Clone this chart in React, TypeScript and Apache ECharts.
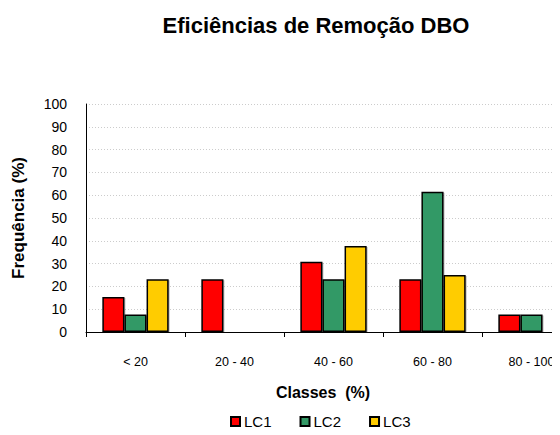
import React, { useEffect, useRef } from "react";
import * as echarts from "echarts";

const categories = ["< 20", "20 - 40", "40 - 60", "60 - 80", "80 - 100"];
const lc1 = [15.4, 23.1, 30.8, 23.1, 7.7];
const lc2 = [7.7, 0, 23.1, 61.5, 7.7];
const lc3 = [23.1, 0, 37.7, 25, 0];
const seriesNames = ["LC1", "LC2", "LC3"];
const colors = ["#FF0000", "#339966", "#FFCC00"];

export default function App() {
  const ref = useRef<HTMLDivElement>(null);
  useEffect(() => {
    if (!ref.current) return;
    const chart = echarts.init(ref.current, undefined, { renderer: "svg" });
    const font = "'Liberation Sans', Arial, sans-serif";
    const dataSets = [lc1, lc2, lc3];
    chart.setOption({
      animation: false,
      backgroundColor: "#ffffff",
      title: {
        text: "Eficiências de Remoção DBO",
        left: 311,
        textAlign: "center",
        top: 9,
        textStyle: {
          fontFamily: font,
          fontWeight: "bold",
          fontSize: 22,
          color: "#000",
        },
      },
      graphic: [
        {
          type: "text",
          x: 323,
          y: 392,
          style: {
            text: "Classes  (%)",
            font: "bold 16px 'Liberation Sans', Arial, sans-serif",
            fill: "#000",
            align: "center",
            verticalAlign: "middle",
          },
        },
      ],
      legend: {
        data: seriesNames,
        left: 230,
        top: 414,
        padding: 0,
        icon: "rect",
        itemWidth: 9,
        itemHeight: 9,
        itemGap: 28,
        textStyle: { fontFamily: font, fontSize: 15, color: "#000", padding: [0, 0, 0, -1] },
      },
      grid: { left: 86, top: 104, width: 495, height: 228, outerBoundsMode: "none", containLabel: false },
      xAxis: {
        type: "category",
        data: categories,
        axisLine: { lineStyle: { color: "#000", width: 1 } },
        axisTick: { show: true, length: 5, lineStyle: { color: "#000" } },
        axisLabel: { color: "#000", fontFamily: font, fontSize: 12.5, margin: 23, hideOverlap: false },
      },
      yAxis: {
        type: "value",
        min: 0,
        max: 100,
        interval: 10,
        name: "Frequência (%)",
        nameLocation: "middle",
        nameGap: 59,
        nameMoveOverlap: false,
        nameTextStyle: {
          fontFamily: font,
          fontWeight: "bold",
          fontSize: 17,
          color: "#000",
        },
        axisLine: { show: true, lineStyle: { color: "#000", width: 1 } },
        axisTick: { show: false },
        axisLabel: { color: "#000", fontFamily: font, fontSize: 14, margin: 19 },
        splitLine: { lineStyle: { color: "#cccccc", type: [1, 2] } },
      },
      series: dataSets.map((d, i) => ({
        name: seriesNames[i],
        type: "bar",
        data: d,
        barGap: "0%",
        barCategoryGap: "33%",
        itemStyle: {
          color: colors[i],
          borderColor: "#000",
          borderWidth: 1.5,
          shadowColor: "rgba(0,0,0,0.25)",
          shadowOffsetX: 1,
          shadowOffsetY: 1,
          shadowBlur: 1,
        },
      })),
    });
    return () => chart.dispose();
  }, []);
  return <div ref={ref} style={{ width: 560, height: 435, margin: -8 }} />;
}
